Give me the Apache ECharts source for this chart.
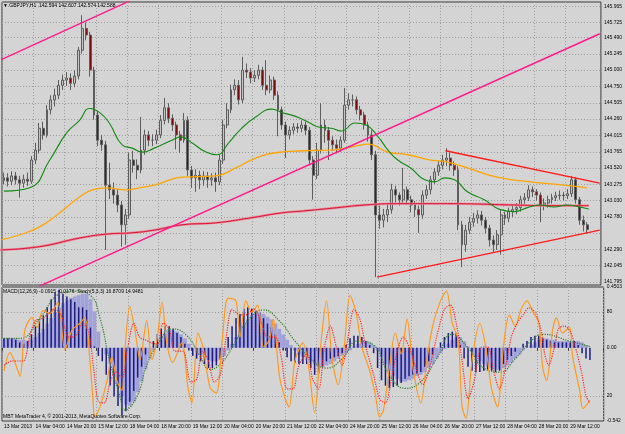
<!DOCTYPE html>
<html>
<head>
<meta charset="utf-8">
<script src="https://cdn.jsdelivr.net/npm/echarts@6/dist/echarts.min.js"></script>
<style>
  html, body { margin: 0; padding: 0; background: #d4d4d4; }
  #main { width: 625px; height: 434px; }
</style>
</head>
<body>
<div id="main"></div>
<script>
// GBPJPY H1 – bars grouped by 2 hours
const xLabels = ['13 Mar 2013', '14 Mar 04:00', '14 Mar 20:00', '15 Mar 12:00', '18 Mar 04:00', '18 Mar 20:00',
  '19 Mar 12:00', '20 Mar 04:00', '20 Mar 20:00', '21 Mar 12:00', '22 Mar 04:00', '24 Mar 20:00', '25 Mar 12:00',
  '26 Mar 04:00', '26 Mar 20:00', '27 Mar 12:00', '28 Mar 04:00', '28 Mar 20:00', '29 Mar 12:00'];
const slotCount = 153;

const firstOpen = 143.33;
const closes = [
  143.37, 143.32, 143.40, 143.34, 143.29, 143.35, 143.32, 143.64, 143.79, 144.12,
  144.02, 144.40, 144.55, 144.62, 144.77, 144.85, 144.88, 144.80, 144.91, 145.30,
  145.63, 145.53, 145.00, 144.32, 143.94, 143.87, 143.26, 143.19, 143.11, 142.96,
  142.66, 142.81, 143.64, 143.56, 143.49, 143.79, 144.02, 143.94, 143.94, 144.02,
  144.24, 144.43, 144.27, 144.17, 144.02, 143.94, 144.24, 143.49, 143.37, 143.41,
  143.34, 143.40, 143.34, 143.37, 143.31, 143.64, 144.17, 144.40, 144.70, 144.77,
  144.55, 145.00, 144.97, 144.88, 144.92, 145.00, 144.77, 144.70, 144.85, 144.62,
  144.40, 144.17, 144.02, 144.09, 144.14, 144.12, 144.17, 144.09, 143.64, 143.41,
  143.79, 144.17, 144.09, 143.94, 143.87, 143.82, 143.94, 144.47, 144.55, 144.55,
  144.40, 144.32, 144.17, 144.02, 143.72, 142.81, 142.73, 142.81, 142.89, 143.19,
  143.11, 143.04, 143.19, 143.04, 142.96, 142.89, 142.81, 143.11, 143.19, 143.34,
  143.46, 143.56, 143.64, 143.67, 143.56, 143.49, 142.66, 142.36, 142.58, 142.70,
  142.76, 142.81, 142.73, 142.61, 142.43, 142.36, 142.51, 142.81, 142.76, 142.86,
  142.89, 142.92, 143.04, 143.07, 143.19, 143.16, 143.11, 142.96, 142.99, 143.04,
  143.07, 143.10, 143.11, 143.10, 143.13, 143.34, 143.04, 142.73, 142.66, 142.588
];
const highs = [
  143.45, 143.44, 143.47, 143.46, 143.40, 143.42, 143.45, 143.70, 143.90, 144.20,
  144.22, 144.47, 144.62, 144.72, 144.85, 144.93, 144.97, 144.95, 145.00, 145.35,
  145.83, 145.72, 145.58, 145.05, 144.38, 144.02, 143.93, 143.60, 143.30, 143.20,
  143.02, 142.90, 143.75, 143.78, 143.65, 144.29, 144.10, 144.08, 144.03, 144.10,
  144.32, 144.58, 144.50, 144.33, 144.22, 144.08, 144.35, 144.30, 143.55, 143.50,
  143.48, 143.47, 143.46, 143.44, 143.45, 143.72, 144.25, 144.50, 144.78, 144.86,
  144.85, 145.20, 145.10, 145.03, 145.00, 145.08, 145.05, 145.15, 144.92, 144.90,
  144.68, 144.45, 144.22, 144.15, 144.20, 144.20, 144.24, 144.22, 144.14, 143.70,
  143.90, 144.50, 144.25, 144.14, 144.00, 143.95, 144.00, 144.73, 144.65, 144.63,
  144.60, 144.46, 144.37, 144.22, 144.09, 143.78, 142.95, 142.90, 142.96, 143.28,
  143.25, 143.15, 143.52, 143.24, 143.10, 143.02, 142.95, 143.18, 143.26, 143.40,
  143.52, 143.62, 143.72, 143.82, 143.75, 143.62, 143.55, 142.72, 142.66, 142.78,
  142.84, 142.88, 142.87, 142.78, 142.66, 142.50, 142.58, 142.88, 142.86, 142.92,
  142.96, 142.99, 143.10, 143.14, 143.26, 143.24, 143.20, 143.15, 143.06, 143.10,
  143.13, 143.16, 143.18, 143.16, 143.20, 143.40, 143.38, 143.08, 142.80, 142.70
];
const lows = [
  143.27, 143.24, 143.26, 143.27, 143.07, 143.22, 143.25, 143.28, 143.58, 143.74,
  143.95, 143.98, 144.33, 144.45, 144.56, 144.70, 144.76, 144.70, 144.74, 144.86,
  145.25, 145.45, 144.90, 144.25, 143.85, 143.78, 142.28, 143.05, 142.98, 142.85,
  142.33, 142.36, 142.75, 143.45, 143.35, 143.44, 143.72, 143.85, 143.85, 143.88,
  143.97, 144.18, 144.20, 144.08, 143.80, 143.75, 143.90, 143.40, 143.22, 143.16,
  143.20, 143.25, 143.22, 143.25, 143.16, 143.26, 143.58, 144.12, 144.35, 144.62,
  144.48, 144.50, 144.88, 144.80, 144.82, 144.86, 144.70, 144.62, 144.65, 144.55,
  144.00, 144.10, 143.67, 143.95, 144.03, 144.05, 144.06, 144.02, 143.56, 143.04,
  143.35, 143.74, 143.90, 143.64, 143.78, 143.74, 143.76, 143.90, 144.40, 144.45,
  144.33, 144.24, 144.10, 143.92, 143.64, 141.87, 142.60, 142.62, 142.70, 142.83,
  143.00, 142.95, 142.98, 142.96, 142.85, 142.78, 142.54, 142.75, 143.05, 143.12,
  143.28, 143.40, 143.50, 143.55, 143.48, 143.40, 142.58, 142.02, 142.25, 142.52,
  142.63, 142.68, 142.65, 142.53, 142.33, 142.25, 142.28, 142.21, 142.66, 142.70,
  142.78, 142.82, 142.86, 142.98, 143.02, 143.08, 143.03, 142.70, 142.88, 142.92,
  142.98, 143.02, 143.04, 143.03, 143.05, 143.08, 142.98, 142.66, 142.56, 142.53
];
const lastPrice = 142.588;

// moving averages, [bar, price] read at points along each curve
const maGreen = [[0, 143.17], [6.6, 143.22], [11.7, 143.64], [16, 144.05], [19.3, 144.24], [21.9, 144.42],
  [24.4, 144.36], [26.9, 144.20], [30.2, 143.87], [32.8, 143.82], [35.3, 143.76], [38.4, 143.82], [42.9, 143.94],
  [45.2, 143.99], [48, 143.90], [51.6, 143.76], [54.4, 143.72], [57.4, 143.90], [60.7, 144.12], [64.3, 144.29],
  [68.4, 144.41], [70.9, 144.36], [74.5, 144.30], [77.8, 144.21], [80.3, 144.14], [83.6, 144.12], [86.2, 144.08],
  [89.7, 144.20], [92.5, 144.17], [95.6, 143.99], [98.1, 143.79], [100.6, 143.64], [103.9, 143.52], [107.5, 143.34],
  [110, 143.31], [112.6, 143.37], [115.1, 143.34], [118.4, 143.16], [122.7, 143.04], [126.8, 142.89],
  [130.4, 142.86], [133.7, 142.92], [137, 142.96], [140.5, 142.93], [143.8, 142.96], [147.1, 142.93], [149.4, 142.90]];
const maOrange = [[-1, 142.43], [4.1, 142.51], [9.1, 142.63], [14.2, 142.84], [19.3, 143.08], [22.6, 143.19],
  [26.2, 143.22], [31.3, 143.19], [34.6, 143.22], [38.4, 143.26], [45.5, 143.38], [54.1, 143.40], [59.2, 143.52],
  [64.3, 143.67], [69.4, 143.75], [76.5, 143.78], [83.6, 143.79], [89.7, 143.85], [93, 143.88], [98.1, 143.76],
  [103.2, 143.72], [109, 143.64], [113.3, 143.61], [118.4, 143.52], [126, 143.38], [134.4, 143.31],
  [143.1, 143.26], [148.9, 143.22]];
const maRed = [[-1, 142.28], [9.1, 142.33], [19.3, 142.46], [26.2, 142.52], [32.8, 142.54], [38.4, 142.58],
  [45.5, 142.66], [54.1, 142.69], [62.5, 142.76], [70.9, 142.84], [76.5, 142.87], [83.6, 142.91], [92.2, 142.96],
  [100.6, 142.98], [113.3, 142.98], [130.4, 142.96], [138.8, 142.95], [149.4, 142.95]];

// hand-drawn trend lines, [bar, price] end points
const channelUpper = [[-1, 145.15], [40, 146.26]];
const channelLower = [[7.1, 141.68], [152.2, 145.55]];
const wedgeUpper = [[112.8, 143.78], [152.2, 143.29]];
const wedgeLower = [[95.3, 141.87], [152.2, 142.58]];

const priceTicks = [141.795, 142.045, 142.29, 142.535, 142.78, 143.03, 143.275, 143.52, 143.765, 144.015,
  144.26, 144.505, 144.75, 145.0, 145.245, 145.49, 145.725, 145.965];

// MACD(12,26,9) histogram + second histogram + dotted signal
const macdMain = [
  0.07, 0.07, 0.07, 0.06, 0.04, 0.03, 0.05, 0.10, 0.16, 0.21,
  0.24, 0.30, 0.36, 0.41, 0.43, 0.40, 0.38, 0.36, 0.34, 0.30,
  0.30, 0.28, 0.15, 0.01, -0.06, -0.10, -0.20, -0.28, -0.36, -0.43,
  -0.50, -0.47, -0.40, -0.32, -0.22, -0.14, -0.05, 0.00, 0.05, 0.10,
  0.14, 0.16, 0.16, 0.14, 0.11, 0.08, 0.03, -0.02, -0.06, -0.08,
  -0.10, -0.12, -0.15, -0.15, -0.13, -0.08, 0.00, 0.08, 0.16, 0.22,
  0.25, 0.29, 0.30, 0.29, 0.27, 0.26, 0.22, 0.18, 0.15, 0.10,
  0.04, -0.02, -0.07, -0.10, -0.11, -0.12, -0.12, -0.12, -0.15, -0.20,
  -0.19, -0.14, -0.10, -0.08, -0.07, -0.06, -0.04, 0.02, 0.07, 0.09,
  0.09, 0.08, 0.05, 0.02, -0.04, -0.15, -0.24, -0.28, -0.30, -0.29,
  -0.28, -0.26, -0.23, -0.21, -0.20, -0.19, -0.18, -0.14, -0.10, -0.05,
  0.00, 0.04, 0.08, 0.11, 0.12, 0.11, 0.02, -0.08, -0.14, -0.17,
  -0.18, -0.18, -0.17, -0.16, -0.17, -0.18, -0.17, -0.12, -0.09, -0.06,
  -0.03, 0.00, 0.03, 0.05, 0.08, 0.09, 0.09, 0.07, 0.06, 0.05,
  0.04, 0.04, 0.04, 0.04, 0.04, 0.05, 0.02, -0.04, -0.08, -0.09
];
const macdShade = [
  0.07, 0.07, 0.07, 0.07, 0.06, 0.06, 0.05, 0.06, 0.08, 0.11,
  0.14, 0.18, 0.22, 0.26, 0.30, 0.33, 0.35, 0.37, 0.38, 0.39,
  0.40, 0.40, 0.36, 0.27, 0.12, 0.00, -0.05, -0.12, -0.20, -0.28,
  -0.36, -0.42, -0.43, -0.40, -0.33, -0.25, -0.16, -0.08, -0.02, 0.03,
  0.08, 0.11, 0.13, 0.13, 0.12, 0.10, 0.07, 0.03, 0.00, -0.03,
  -0.05, -0.07, -0.09, -0.10, -0.10, -0.09, -0.06, -0.02, 0.03, 0.08,
  0.13, 0.17, 0.21, 0.24, 0.25, 0.26, 0.25, 0.23, 0.21, 0.18,
  0.14, 0.10, 0.06, 0.02, -0.02, -0.05, -0.07, -0.09, -0.10, -0.12,
  -0.14, -0.14, -0.13, -0.12, -0.10, -0.08, -0.06, -0.04, -0.02, 0.01,
  0.03, 0.05, 0.05, 0.04, 0.02, -0.02, -0.07, -0.12, -0.17, -0.21,
  -0.23, -0.25, -0.25, -0.24, -0.23, -0.21, -0.20, -0.18, -0.15, -0.12,
  -0.08, -0.04, -0.01, 0.03, 0.06, 0.08, 0.08, 0.05, 0.01, -0.03,
  -0.07, -0.10, -0.12, -0.14, -0.15, -0.16, -0.16, -0.15, -0.13, -0.11,
  -0.08, -0.05, -0.02, 0.00, 0.02, 0.04, 0.06, 0.07, 0.07, 0.06,
  0.06, 0.05, 0.05, 0.05, 0.05, 0.05, 0.05, 0.04, 0.02, 0.00
];
const macdSignal = [[0, 0.07], [4.1, 0.07], [9.1, 0.22], [14.2, 0.40], [18, 0.42], [21.9, 0.39], [24.4, 0.22],
  [26.9, -0.10], [29.5, -0.36], [30.7, -0.46], [33.8, -0.36], [36.3, -0.13], [38.9, 0.015], [42.9, 0.14],
  [46.5, 0.09], [49.8, -0.06], [52.4, -0.16], [55, -0.12], [58, 0.0], [62, 0.2], [66, 0.28], [70, 0.2],
  [74, 0.05], [78, -0.08], [82, -0.15], [86, -0.08], [90, 0.05], [94, 0.02], [98, -0.2], [102, -0.3],
  [106, -0.25], [110, -0.08], [114, 0.1], [118, 0.0], [122, -0.15], [126, -0.18], [130, -0.08], [134, 0.05],
  [137, 0.10], [143.8, 0.05], [149, 0.01]];

// Stoch(5,3,3): main (solid orange) and signal (dotted red)
const stochMain = [[0, 38], [1.5, 51], [2.8, 44], [4.1, 34], [5.3, 67], [7.1, 76], [8.4, 69], [9.9, 81], [11.7, 79],
  [13.7, 87], [15.5, 53], [17.3, 67], [19.3, 72], [20.6, 76], [21.9, 44], [22.6, 19], [23.1, 5], [24.4, 12],
  [26.2, 31], [27.4, 48], [28.7, 31], [30, 24], [30.7, 51], [32, 84], [33.3, 67], [34.6, 46], [36.3, 74],
  [37.6, 46], [38.9, 60], [40.2, 87], [41.4, 58], [42.9, 44], [45.2, 58], [46.8, 26], [47.8, 15], [49.3, 65],
  [50.6, 55], [52.4, 26], [54, 22], [55.5, 60], [57, 90], [59, 88], [60, 62], [61.5, 88], [63, 80], [64.5, 85],
  [66, 55], [67.5, 60], [68.5, 75], [70, 35], [71.5, 18], [72.5, 12], [74, 45], [76, 58], [77.5, 40], [79, 8],
  [80.5, 55], [82, 88], [83.5, 45], [85, 28], [86.5, 55], [88, 92], [89.5, 80], [91, 55], [93, 38], [94.5, 20],
  [95.5, 5], [96.5, 10], [98, 40], [99.5, 65], [101, 50], [102.5, 75], [104, 40], [106, 15], [107.5, 45],
  [109, 70], [111, 88], [112.5, 95], [114, 72], [115.5, 60], [116.5, 12], [117.5, 4], [119, 45], [121, 72],
  [122.5, 55], [124, 25], [125.5, 12], [127, 55], [128.5, 78], [130, 70], [131.5, 82], [133, 88], [134.5, 80],
  [136, 72], [137, 40], [138, 31], [139.5, 67], [140.5, 76], [142, 65], [143.8, 69], [144.6, 48], [146.4, 24],
  [147.2, 11], [149, 16.87]];
const stochSignal = [[0, 42], [2, 45], [3.5, 45], [5, 45], [6.5, 62], [8, 74], [9.5, 75], [11, 78], [12.8, 82],
  [14.5, 78], [16.5, 62], [18.3, 63], [20, 72], [21.5, 66], [22.8, 40], [24, 16], [25.5, 15], [27, 30], [28.5, 37],
  [30, 33], [31.5, 55], [33, 72], [34.5, 62], [36, 60], [37.5, 58], [39, 57], [40.5, 72], [42, 68], [43.5, 52],
  [45.5, 52], [47.5, 30], [49, 32], [50.5, 52], [52, 45], [53.5, 30], [55, 35], [56.5, 62], [58, 82], [60, 78],
  [61.5, 78], [63.5, 82], [65.5, 72], [67, 62], [69, 62], [70.5, 48], [72, 25], [73.5, 25], [75, 42], [77, 50],
  [78.5, 32], [80, 25], [81.5, 55], [83, 70], [84.5, 55], [86, 42], [87.5, 62], [89, 82], [90.5, 75], [92, 55],
  [94, 35], [95.5, 18], [97, 15], [98.5, 32], [100, 52], [101.5, 62], [103, 55], [105, 38], [106.5, 28], [108, 38],
  [110, 62], [112, 82], [113.5, 85], [115, 72], [116.5, 45], [118, 18], [119.5, 30], [121.5, 55], [123, 55],
  [124.5, 38], [126, 25], [127.5, 40], [129, 62], [130.5, 72], [132, 78], [133.5, 83], [135, 80], [136.5, 68],
  [137.5, 50], [138.5, 42], [140, 55], [141, 68], [142.5, 70], [144, 66], [145, 58], [146.8, 38], [148, 20],
  [149, 14.95]];

const FONT = '"Liberation Sans", Arial, sans-serif';
const cats = [];
for (let i = 0; i < slotCount; i++) cats.push(String(i));
const ohlc = closes.map((c, i) => [i === 0 ? firstOpen : closes[i - 1], c, lows[i], highs[i]]);
const everyLabel = (idx) => idx % 8 === 0 && idx / 8 < xLabels.length;
const dotted = { type: [1, 2], color: '#9e9e9e', width: 1 };

let myChart = echarts.init(document.getElementById('main'));
myChart.setOption({
  animation: false,
  backgroundColor: '#d4d4d4',
  textStyle: { fontFamily: FONT },
  title: [
    { text: '\u25BC GBPJPY,H1  142.594 142.607 142.574 142.588', left: 3, top: 3, padding: 0,
      textStyle: { fontSize: 5, fontWeight: 'normal', color: '#000', fontFamily: FONT } },
    { text: 'MACD(12,26,9) -0.0915 -0.0176  Stoch(5,3,3) 16.8709 14.9481', left: 3, top: 289, padding: 0,
      textStyle: { fontSize: 5, fontWeight: 'normal', color: '#000', fontFamily: FONT } },
    { text: 'MBT MetaTrader 4, \u00A9 2001-2013, MetaQuotes Software Corp.', left: 3, top: 414, padding: 0,
      textStyle: { fontSize: 5, fontWeight: 'normal', color: '#000', fontFamily: FONT } }
  ],
  grid: [
    { left: 2, right: 21, top: 2, height: 283, show: true, borderColor: '#3a3a3a', borderWidth: 1 },
    { left: 2, right: 21, top: 287, height: 134, show: true, borderColor: '#3a3a3a', borderWidth: 1 }
  ],
  xAxis: [
    { type: 'category', gridIndex: 0, data: cats, boundaryGap: true,
      axisLine: { show: false }, axisTick: { show: false }, axisLabel: { show: false },
      splitLine: { show: true, interval: everyLabel, lineStyle: dotted } },
    { type: 'value', gridIndex: 0, min: -0.5, max: slotCount - 0.5, show: false },
    { type: 'category', gridIndex: 1, data: cats, boundaryGap: true,
      axisLine: { show: false },
      axisTick: { show: true, interval: everyLabel, length: 3, lineStyle: { color: '#3a3a3a' } },
      axisLabel: { interval: everyLabel, formatter: (v, idx) => xLabels[idx / 8], align: 'left',
        fontSize: 5, margin: 3, color: '#000' },
      splitLine: { show: true, interval: everyLabel, lineStyle: dotted } },
    { type: 'value', gridIndex: 1, min: -0.5, max: slotCount - 0.5, show: false },
    { type: 'category', gridIndex: 1, data: cats, boundaryGap: true, show: false }
  ],
  yAxis: [
    { type: 'value', gridIndex: 0, position: 'right', min: 141.75, max: 146.03, scale: true,
      axisLine: { show: false }, axisTick: { show: false, customValues: priceTicks },
      axisLabel: { customValues: priceTicks, fontSize: 5, margin: 3, color: '#000',
        formatter: v => Math.abs(v - 142.535) < 0.001 ? '' : v.toFixed(3) },
      splitLine: { show: true, lineStyle: dotted } },
    { type: 'value', gridIndex: 1, position: 'right', min: -0.542, max: 0.4503,
      axisLine: { show: false }, axisTick: { show: false, customValues: [-0.542, 0, 0.4503] },
      axisLabel: { customValues: [-0.542, 0, 0.4503], fontSize: 5, margin: 3, color: '#000',
        formatter: v => v === 0 ? '0.00' : String(v) },
      splitLine: { show: false } },
    { type: 'value', gridIndex: 1, position: 'right', min: 2.1, max: 97.9,
      axisLine: { show: false }, axisTick: { show: false, customValues: [20, 80] },
      axisLabel: { customValues: [20, 80], fontSize: 5, margin: 3, color: '#000' },
      splitLine: { show: true, lineStyle: dotted } }
  ],
  series: [
    { type: 'candlestick', xAxisIndex: 0, yAxisIndex: 0, data: ohlc, barWidth: 2.4,
      itemStyle: { color: '#c4c4c4', color0: '#7a0c0c', borderColor: '#5e5e5e', borderColor0: '#5e5e5e', borderWidth: 1 },
      markLine: { silent: true, symbol: 'none', data: [{ yAxis: lastPrice }], lineStyle: { opacity: 0 },
        label: { position: 'end', formatter: lastPrice.toFixed(3), backgroundColor: '#000', color: '#fff',
          fontSize: 5, padding: [1, 1], distance: 1 } } },
    { type: 'line', xAxisIndex: 1, yAxisIndex: 0, data: maRed, smooth: true, showSymbol: false,
      lineStyle: { color: '#e58a9e', width: 2.4 } },
    { type: 'line', xAxisIndex: 1, yAxisIndex: 0, data: maRed, smooth: true, showSymbol: false,
      lineStyle: { color: '#dc1430', width: 1 } },
    { type: 'line', xAxisIndex: 1, yAxisIndex: 0, data: maOrange, smooth: true, showSymbol: false,
      lineStyle: { color: '#ffa500', width: 1.3 } },
    { type: 'line', xAxisIndex: 1, yAxisIndex: 0, data: maGreen, smooth: true, showSymbol: false,
      lineStyle: { color: '#138a13', width: 1.1 } },
    { type: 'line', xAxisIndex: 1, yAxisIndex: 0, data: channelUpper, showSymbol: false,
      lineStyle: { color: '#ff1a8c', width: 1.4 } },
    { type: 'line', xAxisIndex: 1, yAxisIndex: 0, data: channelLower, showSymbol: false,
      lineStyle: { color: '#ff1a8c', width: 1.4 } },
    { type: 'line', xAxisIndex: 1, yAxisIndex: 0, data: wedgeUpper, showSymbol: false,
      lineStyle: { color: '#ff1a1a', width: 1.4 } },
    { type: 'line', xAxisIndex: 1, yAxisIndex: 0, data: wedgeLower, showSymbol: false,
      lineStyle: { color: '#ff1a1a', width: 1.4 } },
    { type: 'bar', xAxisIndex: 4, yAxisIndex: 1, data: macdShade, barCategoryGap: '0%',
      itemStyle: { color: '#a2a2da' } },
    { type: 'bar', xAxisIndex: 2, yAxisIndex: 1, data: macdMain, barWidth: 1.5,
      itemStyle: { color: '#1c1c84' } },
    { type: 'line', xAxisIndex: 3, yAxisIndex: 1, data: macdSignal, smooth: true, showSymbol: false,
      lineStyle: { color: '#2f7f2f', width: 1.2, type: 'dotted' } },
    { type: 'line', xAxisIndex: 3, yAxisIndex: 2, data: stochMain, smooth: 0.3, showSymbol: false,
      lineStyle: { color: '#ff9a1e', width: 1.2 } },
    { type: 'line', xAxisIndex: 3, yAxisIndex: 2, data: stochSignal, smooth: 0.3, showSymbol: false,
      lineStyle: { color: '#ff2828', width: 1.2, type: 'dotted' } }
  ]
});
</script>
</body>
</html>
